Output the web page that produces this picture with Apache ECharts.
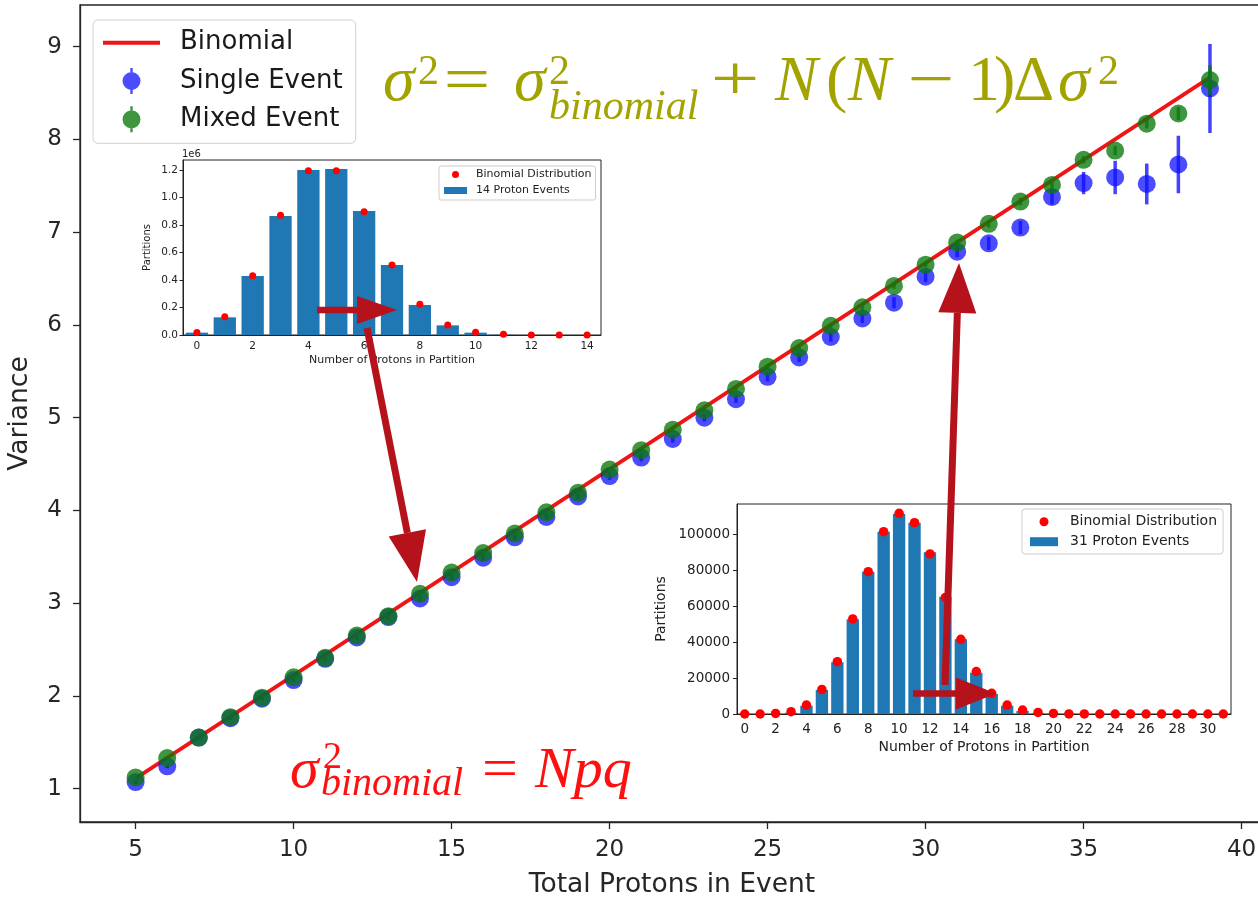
<!DOCTYPE html>
<html><head><meta charset="utf-8">
<script src="https://cdn.jsdelivr.net/npm/echarts@6/dist/echarts.min.js"></script>
<style>html,body{margin:0;padding:0;background:#fff;}#c{width:1258px;height:899px;}</style>
</head><body><div id="c"></div>
<script>
// ---------- data ----------
const protons      = [5,6,7,8,9,10,11,12,13,14,15,16,17,18,19,20,21,22,23,24,25,26,27,28,29,30,31,32,33,34,35,36,37,38,39];
const singleEvent  = [1.07,1.24,1.55,1.76,1.97,2.17,2.40,2.63,2.85,3.05,3.28,3.49,3.71,3.93,4.15,4.37,4.57,4.77,5.00,5.20,5.44,5.65,5.87,6.07,6.24,6.52,6.79,6.88,7.05,7.38,7.53,7.59,7.52,7.73,8.55];
const singleErr    = [0.02,0.02,0.02,0.02,0.02,0.02,0.02,0.03,0.03,0.03,0.03,0.03,0.03,0.03,0.03,0.04,0.04,0.04,0.04,0.04,0.05,0.05,0.05,0.05,0.06,0.06,0.06,0.07,0.07,0.08,0.12,0.18,0.22,0.31,0.48];
const mixedEvent   = [1.12,1.33,1.55,1.77,1.98,2.20,2.41,2.65,2.86,3.10,3.33,3.54,3.75,3.98,4.19,4.44,4.65,4.87,5.08,5.31,5.55,5.75,5.99,6.19,6.42,6.65,6.89,7.09,7.33,7.51,7.78,7.88,8.17,8.28,8.64];
const mixedErr     = [0.01,0.01,0.01,0.01,0.01,0.01,0.01,0.01,0.01,0.02,0.02,0.02,0.02,0.02,0.02,0.02,0.02,0.02,0.02,0.02,0.03,0.03,0.03,0.03,0.03,0.03,0.03,0.04,0.04,0.04,0.04,0.05,0.05,0.07,0.16];
const binomialX    = [5, 39];
const binomialY    = [1.11, 8.67];
const xTicks       = [5,10,15,20,25,30,35,40];
const yTicks       = [1,2,3,4,5,6,7,8,9];

const inset14Categories = ['0','1','2','3','4','5','6','7','8','9','10','11','12','13','14'];
const inset14Counts     = [17000,128500,429000,865500,1200000,1207000,902000,509000,218000,70000,17000,2400,0,0,0];
const inset14Binomial   = [19000,133000,431500,870000,1195000,1195000,897000,509000,223000,72700,19400,4800,700,50,0];
const inset14YTicks     = [0,200000,400000,600000,800000,1000000,1200000];

const inset31Categories = ['0','1','2','3','4','5','6','7','8','9','10','11','12','13','14','15','16','17','18','19','20','21','22','23','24','25','26','27','28','29','30','31'];
const inset31Counts     = [0,0,0,700,4600,13400,28800,52700,79200,101500,111300,106500,90000,65300,41600,23000,11100,4600,1700,500,150,40,0,0,0,0,0,0,0,0,0,0];
const inset31Binomial   = [0,0,300,1300,5000,13700,29100,52900,79200,101500,111700,106500,89100,64900,41600,23600,11500,5000,2200,900,300,60,10,0,0,0,0,0,0,0,0,0];
const inset31YTicks     = [0,20000,40000,60000,80000,100000];

// ---------- helpers ----------
const INK = '#262626';
const BLUE = '#1010ff', GREEN = '#0a780a', RED = '#f01515', ARROW = '#b5121b';

function errSeries(name, ys, errs, color, z) {
  return {
    type: 'custom', name, xAxisIndex: 0, yAxisIndex: 0, z, silent: true,
    itemStyle: {color},
    data: protons.map((x, i) => [x, ys[i] - errs[i], ys[i] + errs[i]]),
    encode: {x: 0, y: [1, 2]},
    renderItem: (params, api) => {
      const a = api.coord([api.value(0), api.value(1)]);
      const b = api.coord([api.value(0), api.value(2)]);
      return {type: 'line', shape: {x1: a[0], y1: a[1], x2: b[0], y2: b[1]},
        style: {stroke: color, lineWidth: 3.5, opacity: 0.78}};
    }
  };
}

function mt(str, x, base, size, color, italic, align, sx) {
  return {type: 'text', x: x, y: base - 0.32 * size, z: 60, scaleX: sx || 1,
    style: {text: str, fill: color, font: (italic ? 'italic ' : '') + size + 'px "Liberation Serif"',
      textAlign: align || 'left', verticalAlign: 'middle', textVerticalAlign: 'middle'}};
}
function poly(points) {
  return {type: 'polygon', z: 80, shape: {points}, style: {fill: ARROW}};
}

const OL = '#a3a300';
const formulaTop = [
  mt('σ', 383, 104, 64, OL, true),
  mt('2', 418, 86, 42, OL, false),
  mt('=', 467, 104, 64, OL, false, 'center', 1.3),
  mt('σ', 514, 104, 64, OL, true),
  mt('2', 549, 86, 42, OL, false),
  mt('binomial', 549, 121, 42, OL, true),
  mt('+', 735, 104, 64, OL, false, 'center', 1.35),
  mt('N', 775, 104, 64, OL, true),
  mt('(', 826, 104, 64, OL, false),
  mt('N', 848, 104, 64, OL, true),
  mt('−', 931, 104, 64, OL, false, 'center', 1.3),
  mt('1', 968, 104, 64, OL, false),
  mt(')', 994, 104, 64, OL, false),
  mt('Δ', 1013, 104, 64, OL, false),
  mt('σ', 1058, 104, 64, OL, true),
  mt('2', 1098, 86, 42, OL, false)
];
const RD = '#ff1010';
const formulaBottom = [
  mt('σ', 290, 790, 58, RD, true),
  mt('2', 323, 770, 38, RD, false),
  mt('binomial', 321, 797, 40, RD, true),
  mt('=', 500, 790, 58, RD, false, 'center', 1.1),
  mt('Npq', 535, 790, 58, RD, true)
];

// arrows (annotation shapes)
function dirArrow(x1, y1, x2, y2, shaftHalf, headLen, headHalf) {
  const dx = x2 - x1, dy = y2 - y1, L = Math.hypot(dx, dy);
  const ux = dx / L, uy = dy / L, px = -uy, py = ux;
  const bx = x2 - ux * headLen, by = y2 - uy * headLen;
  return [
    poly([[x1 + px * shaftHalf, y1 + py * shaftHalf], [bx + px * shaftHalf, by + py * shaftHalf],
          [bx - px * shaftHalf, by - py * shaftHalf], [x1 - px * shaftHalf, y1 - py * shaftHalf]]),
    poly([[bx + px * headHalf, by + py * headHalf], [x2, y2], [bx - px * headHalf, by - py * headHalf]])
  ];
}
const arrows = [].concat(
  dirArrow(317, 310, 397, 310, 3.2, 40, 14),
  dirArrow(367, 328, 417, 582, 3.5, 50, 19),
  dirArrow(945, 685, 959, 263, 3.5, 50, 19),
  dirArrow(913, 693.5, 996, 693.5, 3.3, 40, 16)
);

// ---------- chart ----------
const chart = echarts.init(document.getElementById('c'), null, {renderer: 'canvas'});
const option = {
  backgroundColor: '#ffffff',
  animation: false,
  textStyle: {fontFamily: 'DejaVu Sans'},
  grid: [
    {left: 80, width: 1184, top: 5, height: 817, outerBoundsMode: 'none', containLabel: false,
      show: true, borderColor: INK, borderWidth: 1.3, backgroundColor: 'transparent'},
    {left: 183, top: 160, width: 418, height: 175, outerBoundsMode: 'none', containLabel: false,
      show: true, borderColor: '#222', borderWidth: 1},
    {left: 737, top: 504, width: 494, height: 210, outerBoundsMode: 'none', containLabel: false,
      show: true, borderColor: '#222', borderWidth: 1}
  ],
  xAxis: [
    {type: 'value', gridIndex: 0, min: 3.24, max: 40.71,
      axisLine: {lineStyle: {color: INK, width: 1.3}},
      axisTick: {length: 7, customValues: xTicks, lineStyle: {color: INK, width: 1.3}},
      axisLabel: {customValues: xTicks, fontSize: 23, color: INK, margin: 17},
      splitLine: {show: false},
      name: 'Total Protons in Event', nameLocation: 'middle', nameGap: 50,
      nameTextStyle: {fontSize: 26.5, color: INK}},
    {type: 'category', gridIndex: 1, data: inset14Categories,
      axisLine: {lineStyle: {color: '#222'}},
      axisTick: {interval: 1, alignWithLabel: true, length: 3.5, lineStyle: {color: '#222'}},
      axisLabel: {interval: 1, fontSize: 10.5, color: '#222', margin: 6},
      name: 'Number of Protons in Partition', nameLocation: 'middle', nameGap: 20,
      nameTextStyle: {fontSize: 11, color: '#222'}},
    {type: 'category', gridIndex: 2, data: inset31Categories,
      axisLine: {lineStyle: {color: '#222'}},
      axisTick: {interval: 1, alignWithLabel: true, length: 4, lineStyle: {color: '#222'}},
      axisLabel: {interval: 1, fontSize: 13.5, color: '#222', margin: 8},
      name: 'Number of Protons in Partition', nameLocation: 'middle', nameGap: 26,
      nameTextStyle: {fontSize: 14, color: '#222'}}
  ],
  yAxis: [
    {type: 'value', gridIndex: 0, min: 0.64, max: 9.45,
      axisLine: {show: true, lineStyle: {color: INK, width: 1.3}},
      axisTick: {show: true, length: 7, customValues: yTicks, lineStyle: {color: INK, width: 1.3}},
      axisLabel: {customValues: yTicks, fontSize: 23, color: INK, margin: 18},
      splitLine: {show: false},
      name: 'Variance', nameLocation: 'middle', nameGap: 46,
      nameTextStyle: {fontSize: 26.5, color: INK}},
    {type: 'value', gridIndex: 1, min: 0, max: 1272700,
      axisLine: {show: true, lineStyle: {color: '#222'}},
      axisTick: {show: true, length: 3.5, customValues: inset14YTicks, lineStyle: {color: '#222'}},
      axisLabel: {customValues: inset14YTicks, fontSize: 10.5, color: '#222', margin: 5,
        formatter: v => (v / 1e6).toFixed(1)},
      splitLine: {show: false},
      name: 'Partitions', nameLocation: 'middle', nameGap: 31,
      nameTextStyle: {fontSize: 10, color: '#222'}},
    {type: 'value', gridIndex: 2, min: 0, max: 116900,
      axisLine: {show: true, lineStyle: {color: '#222'}},
      axisTick: {show: true, length: 4, customValues: inset31YTicks, lineStyle: {color: '#222'}},
      axisLabel: {customValues: inset31YTicks, fontSize: 13.5, color: '#222', margin: 7,
        formatter: v => String(v)},
      splitLine: {show: false},
      name: 'Partitions', nameLocation: 'middle', nameGap: 69,
      nameTextStyle: {fontSize: 14, color: '#222'}}
  ],
  legend: [
    {left: 93, top: 20, orient: 'vertical', padding: [8.7, 13, 10, 10], itemGap: 10.3,
      itemWidth: 57, itemHeight: 26, symbolKeepAspect: true,
      borderColor: '#d0d0d0', borderWidth: 1, borderRadius: 5, backgroundColor: 'rgba(255,255,255,0.85)',
      textStyle: {fontSize: 26, color: '#1a1a1a', lineHeight: 28, padding: [0, 0, 0, 15]},
      data: [
        {name: 'Binomial', icon: 'path://M0,11H56V15H0Z'},
        {name: 'Single Event', icon: 'path://M9,4A9,9 0 1,1 8.99,4Z M7.8,0H10.2V26H7.8Z'},
        {name: 'Mixed Event', icon: 'path://M9,4A9,9 0 1,1 8.99,4Z M7.8,0H10.2V26H7.8Z'}
      ]},
    {left: 439, top: 166, orient: 'vertical', padding: [2.5, 4, 3.5, 5], itemGap: 4,
      itemWidth: 23, itemHeight: 7, borderColor: '#cccccc', borderWidth: 1, borderRadius: 2,
      backgroundColor: '#ffffff',
      textStyle: {fontSize: 11, color: '#222', lineHeight: 12, padding: [0, 0, 0, 4]},
      data: [{name: 'Binomial Distribution', icon: 'circle'}, {name: '14 Proton Events', icon: 'rect'}]},
    {left: 1022, top: 509, orient: 'vertical', padding: [4.7, 6, 4.3, 8], itemGap: 4,
      itemWidth: 28, itemHeight: 9, borderColor: '#cccccc', borderWidth: 1, borderRadius: 3,
      backgroundColor: '#ffffff',
      textStyle: {fontSize: 14, color: '#222', lineHeight: 16, padding: [0, 0, 0, 7]},
      data: [{name: 'Binomial Distribution', icon: 'circle'}, {name: '31 Proton Events', icon: 'rect'}]}
  ],
  series: [
    {type: 'line', name: 'Binomial', xAxisIndex: 0, yAxisIndex: 0, z: 2,
      data: binomialX.map((x, i) => [x, binomialY[i]]), showSymbol: false, silent: true,
      itemStyle: {color: RED}, lineStyle: {color: RED, width: 3.8}},
    {type: 'scatter', name: 'Single Event', xAxisIndex: 0, yAxisIndex: 0, z: 3,
      data: protons.map((x, i) => [x, singleEvent[i]]), symbolSize: 18,
      itemStyle: {color: BLUE, opacity: 0.75}},
    {type: 'scatter', name: 'Mixed Event', xAxisIndex: 0, yAxisIndex: 0, z: 5,
      data: protons.map((x, i) => [x, mixedEvent[i]]), symbolSize: 18,
      itemStyle: {color: GREEN, opacity: 0.78}},
    errSeries('Single Event', singleEvent, singleErr, BLUE, 4),
    errSeries('Mixed Event', mixedEvent, mixedErr, GREEN, 6),
    {type: 'bar', name: '14 Proton Events', xAxisIndex: 1, yAxisIndex: 1, data: inset14Counts,
      barWidth: '80%', itemStyle: {color: '#1f77b4'}, z: 3},
    {type: 'scatter', name: 'Binomial Distribution', xAxisIndex: 1, yAxisIndex: 1, data: inset14Binomial,
      symbolSize: 7, itemStyle: {color: '#ff0000', opacity: 1}, z: 4},
    {type: 'bar', name: '31 Proton Events', xAxisIndex: 2, yAxisIndex: 2, data: inset31Counts,
      barWidth: '80%', itemStyle: {color: '#1f77b4'}, z: 3},
    {type: 'scatter', name: 'Binomial Distribution', xAxisIndex: 2, yAxisIndex: 2, data: inset31Binomial,
      symbolSize: 9.5, itemStyle: {color: '#ff0000', opacity: 1}, z: 4}
  ],
  graphic: [
    {type: 'text', x: 182, y: 154, z: 60, style: {text: '1e6', fill: '#222', font: '10px "DejaVu Sans"', verticalAlign: 'middle', textVerticalAlign: 'middle'}}
  ].concat(formulaTop, formulaBottom, arrows)
};
chart.setOption(option);
</script>
</body></html>
